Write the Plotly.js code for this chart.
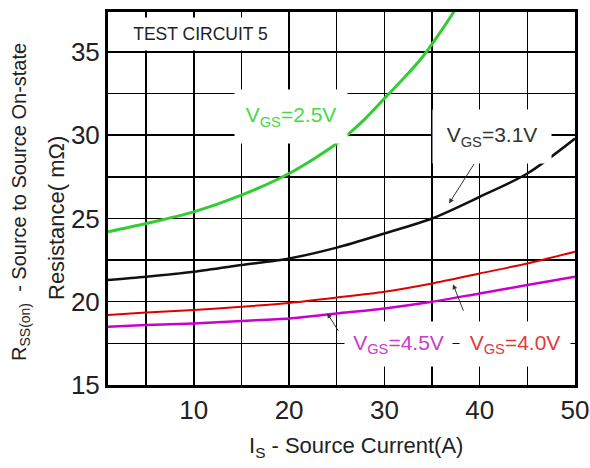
<!DOCTYPE html>
<html><head><meta charset="utf-8">
<script src="https://cdn.plot.ly/plotly-3.0.1.min.js"></script>
<style>html,body{margin:0;padding:0;background:#fff;}#chart{width:590px;height:468px;}</style>
</head><body><div id="chart"></div>
<script>
// Data
const currentA = [1, 5, 10, 15, 20, 25, 30, 35, 40, 45, 50];
const currentA25 = [1, 5, 10, 15, 20, 25, 28, 30, 32, 34, 36, 37.5];
const rdsVgs25 = [24.2, 24.7, 25.4, 26.4, 27.7, 29.5, 31.0, 32.2, 33.4, 34.7, 36.3, 37.6];
const rdsVgs31 = [21.3, 21.5, 21.8, 22.2, 22.6, 23.25, 24.1, 25.0, 26.3, 27.7, 29.8];
const rdsVgs40 = [19.2, 19.35, 19.5, 19.7, 19.93, 20.25, 20.6, 21.1, 21.7, 22.3, 23.0];
const rdsVgs45 = [18.5, 18.6, 18.7, 18.85, 19.0, 19.3, 19.6, 20.0, 20.5, 21.0, 21.5];
const seriesLabels = ['V<sub>GS</sub>=2.5V', 'V<sub>GS</sub>=3.1V', 'V<sub>GS</sub>=4.0V', 'V<sub>GS</sub>=4.5V'];
const xTickVals = [10, 20, 30, 40, 50];
const yTickVals = [15, 20, 25, 30, 35];

const FONT = '"Liberation Sans", Arial, sans-serif';
const W = 590, H = 468, ML = 108, MR = 15, MT = 12, MB = 83;
const PW = W - ML - MR, PH = H - MT - MB;
const px = x => (x - ML) / PW;
const py = y => (H - MB - y) / PH;

function curve(x, y, color, width) {
  return {x: x, y: y, type: 'scatter', mode: 'lines',
    line: {color: color, width: width, shape: 'spline', smoothing: 0.8},
    hoverinfo: 'skip', showlegend: false};
}

const traces = [
  curve(currentA25, rdsVgs25, '#33cc33', 3),
  curve(currentA, rdsVgs31, '#111111', 2.5),
  curve(currentA, rdsVgs40, '#e00000', 2),
  curve(currentA, rdsVgs45, '#cc00cc', 2.5)
];

function box(text, cx, cy, w, h, color, size) {
  return {xref: 'paper', yref: 'paper', x: px(cx), y: py(cy), xanchor: 'center', yanchor: 'middle',
    text: text, showarrow: false, bgcolor: '#ffffff', borderpad: 0, width: w, height: h,
    font: {family: FONT, size: size, color: color}, align: 'center', valign: 'middle'};
}
function arrow(x, y, ax, ay) {
  return {x: x, y: y, xref: 'x', yref: 'y', ax: ax, ay: ay, text: '', showarrow: true,
    arrowhead: 2, arrowsize: 1, arrowwidth: 1, arrowcolor: '#333333', standoff: 0};
}

const annotations = [
  box('TEST CIRCUIT 5', 200.5, 34, 165, 32, '#222222', 17.5),
  box(seriesLabels[0], 291, 116.5, 112, 53, '#49d849', 21),
  box(seriesLabels[1], 492, 136.5, 118, 53, '#333333', 21),
  box(seriesLabels[3], 398.5, 344, 107, 44, '#cc3acc', 21),
  box(seriesLabels[2], 515, 344, 110, 44, '#e03a3a', 21),
  arrow(36.78, 25.9, 26, -41),
  arrow(37.2, 21.05, 11, 28),
  arrow(24.0, 19.31, 12, 19),
  {xref: 'paper', yref: 'paper', x: px(20), y: py(202), xanchor: 'center', yanchor: 'middle',
    text: 'R<sub>SS(on)</sub>  - Source to Source On-state', textangle: -90, showarrow: false,
    font: {family: FONT, size: 20, color: '#222222'}},
  {xref: 'paper', yref: 'paper', x: px(57), y: py(218), xanchor: 'center', yanchor: 'middle',
    text: 'Resistance( mΩ)', textangle: -90, showarrow: false,
    font: {family: FONT, size: 22, color: '#222222'}},
  {xref: 'paper', yref: 'paper', x: px(356), y: py(447), xanchor: 'center', yanchor: 'middle',
    text: 'I<sub>S</sub> - Source Current(A)', showarrow: false,
    font: {family: FONT, size: 22, color: '#222222'}}
];

const layout = {
  width: W, height: H,
  margin: {l: ML, r: MR, t: MT, b: MB, pad: 0},
  paper_bgcolor: '#ffffff', plot_bgcolor: '#ffffff',
  showlegend: false, hovermode: false,
  font: {family: FONT, size: 26, color: '#222222'},
  xaxis: {range: [1, 50], tickvals: xTickVals, ticktext: xTickVals.map(String),
    showgrid: true, gridcolor: '#000000', gridwidth: 1.5,
    minor: {dtick: 5, tick0: 0, showgrid: true, gridcolor: '#000000', gridwidth: 1.5},
    showline: true, linecolor: '#000000', linewidth: 3, mirror: true,
    ticks: '', zeroline: false, fixedrange: true,
    tickfont: {family: FONT, size: 26, color: '#222222'}},
  yaxis: {range: [15, 37.4], tickvals: yTickVals, ticktext: yTickVals.map(String),
    showgrid: true, gridcolor: '#000000', gridwidth: 1.5,
    minor: {dtick: 2.5, tick0: 0, showgrid: true, gridcolor: '#000000', gridwidth: 1.5},
    showline: true, linecolor: '#000000', linewidth: 3, mirror: true,
    ticks: '', zeroline: false, fixedrange: true,
    tickfont: {family: FONT, size: 26, color: '#222222'}},
  annotations: annotations
};

Plotly.newPlot('chart', traces, layout, {displayModeBar: false, staticPlot: true});
</script>
</body></html>
